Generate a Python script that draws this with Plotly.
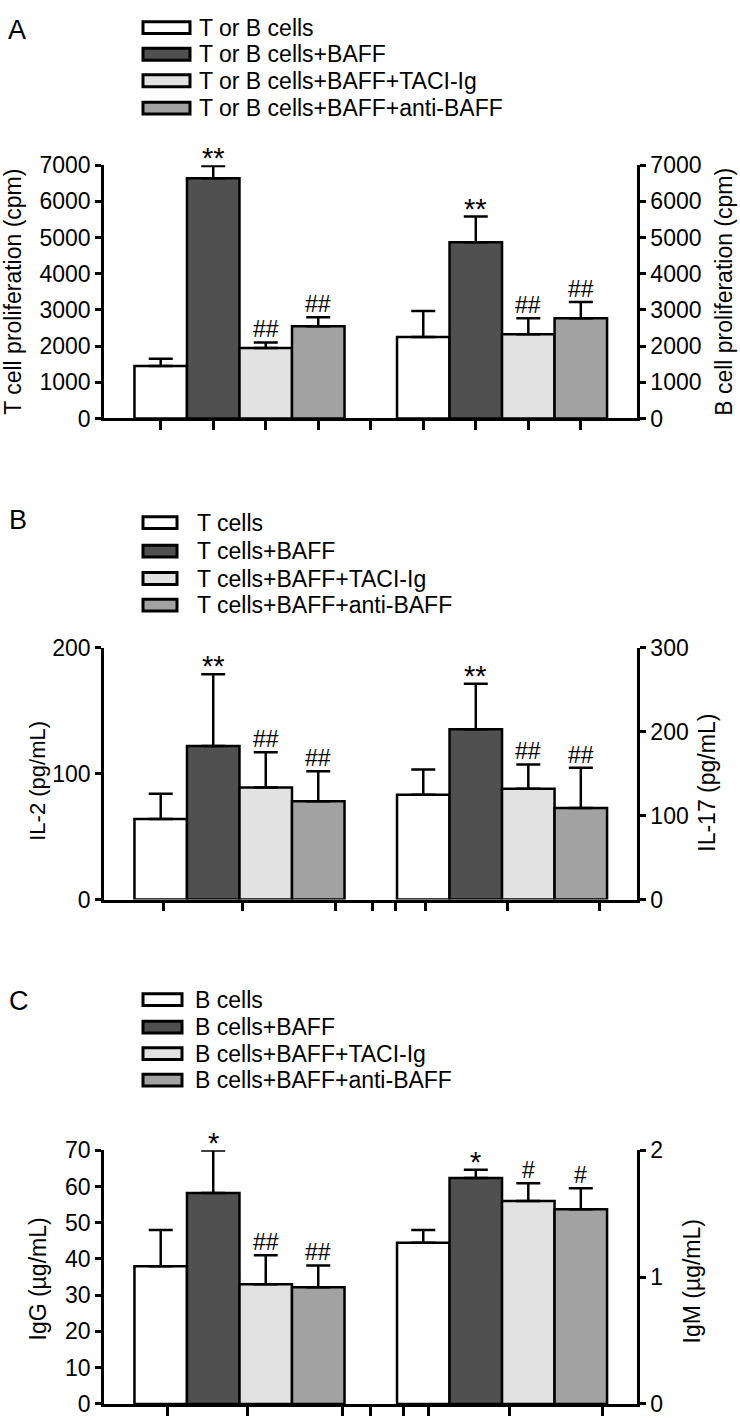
import plotly.graph_objects as go

W, H = 740, 1428

# ---------------- data ----------------
conditions_A = ["T or B cells", "T or B cells+BAFF", "T or B cells+BAFF+TACI-Ig", "T or B cells+BAFF+anti-BAFF"]
conditions_B = ["T cells", "T cells+BAFF", "T cells+BAFF+TACI-Ig", "T cells+BAFF+anti-BAFF"]
conditions_C = ["B cells", "B cells+BAFF", "B cells+BAFF+TACI-Ig", "B cells+BAFF+anti-BAFF"]

# Panel A: proliferation (cpm)
t_prolif = [1450, 6640, 1950, 2550]
t_prolif_err = [200, 340, 150, 250]
b_prolif = [2250, 4870, 2330, 2770]
b_prolif_err = [720, 710, 440, 450]
sig_t_prolif = ["", "**", "##", "##"]
sig_b_prolif = ["", "**", "##", "##"]

# Panel B: cytokines (pg/mL)
il2 = [64, 122, 89, 78]
il2_err = [20, 57, 28, 24]
il17 = [125, 203, 132, 109]
il17_err = [30, 54, 29, 48]
sig_il2 = ["", "**", "##", "##"]
sig_il17 = ["", "**", "##", "##"]

# Panel C: immunoglobulins (ug/mL)
igg = [38, 58.2, 33, 32.2]
igg_err = [10, 11.7, 8, 6]
igm = [1.27, 1.78, 1.60, 1.535]
igm_err = [0.10, 0.065, 0.14, 0.165]
sig_igg = ["", "*", "##", "##"]
sig_igm = ["", "*", "#", "#"]

# tick values
ticks_A = [0, 1000, 2000, 3000, 4000, 5000, 6000, 7000]
ticks_il2 = [0, 100, 200]
ticks_il17 = [0, 100, 200, 300]
ticks_igg = [0, 10, 20, 30, 40, 50, 60, 70]
ticks_igm = [0, 1, 2]

# ---------------- style ----------------
FONT = "Arial, 'Liberation Sans', Helvetica, sans-serif"
FILLS = ["#ffffff", "#505050", "#e2e2e2", "#a2a2a2"]
LW = 2.5
TICKFONT = 23
XRANGE = [-1.08, 9.07]
X_PX = (104, 637)
# irregular x-tick marks seen under panels B and C (in category units)
xticks_B = [0.06, 1.56, 3.33, 4.03, 4.47, 5.04, 6.6, 8.35]
xticks_C = [0.13, 1.65, 3.46, 3.99, 4.62, 5.1, 6.65, 8.42]

def px(x):
    return x / W

def py(y):
    return 1 - y / H

fig = go.Figure()

panels = [
    dict(n=1, conds=conditions_A, lname="T", rname="B",
         left=(t_prolif, t_prolif_err, sig_t_prolif), right=(b_prolif, b_prolif_err, sig_b_prolif),
         lrange=[0, 7000], rrange=[0, 7000], lticks=ticks_A, rticks=ticks_A,
         ypx=(413, 155), xticks=None,
         ltitle="T cell proliferation (cpm)", rtitle="B cell proliferation (cpm)",
         ltpos=(13, 284), rtpos=(724, 284), tsize=(23, 23),
         label="A", labpos=(17, 17),
         leg=dict(x0=143, x1=190, tx=197, rows=[15, 42, 69, 97])),
    dict(n=2, conds=conditions_B, lname="IL-2", rname="IL-17",
         left=(il2, il2_err, sig_il2), right=(il17, il17_err, sig_il17),
         lrange=[0, 200], rrange=[0, 300], lticks=ticks_il2, rticks=ticks_il17,
         ypx=(903, 646.5), xticks=xticks_B,
         ltitle="IL-2 (pg/mL)", rtitle="IL-17 (pg/mL)",
         ltpos=(38, 782), rtpos=(707, 784), tsize=(22, 23),
         label="B", labpos=(18, 516),
         leg=dict(x0=143, x1=177, tx=195, rows=[519, 548, 576, 603])),
    dict(n=3, conds=conditions_C, lname="IgG", rname="IgM",
         left=(igg, igg_err, sig_igg), right=(igm, igm_err, sig_igm),
         lrange=[0, 70], rrange=[0, 2], lticks=ticks_igg, rticks=ticks_igm,
         ypx=(1416.7, 1158.3), xticks=xticks_C,
         ltitle="IgG (µg/mL)", rtitle="IgM (µg/mL)",
         ltpos=(38, 1290), rtpos=(692, 1292), tsize=(23, 23),
         label="C", labpos=(19, 1006),
         leg=dict(x0=143, x1=182, tx=193, rows=[1005, 1033, 1060, 1087])),
]

annotations = []
shapes = []

for p in panels:
    n = p["n"]
    xa = "x" if n == 1 else f"x{n}"
    yl_n = 2 * n - 1
    yr_n = 2 * n
    yl = "y" if yl_n == 1 else f"y{yl_n}"
    yr = f"y{yr_n}"
    lcats = [f"{p['lname']}: {c}" for c in p["conds"]]
    rcats = [f"{p['rname']}: {c}" for c in p["conds"]]
    cats = lcats + [" "] + rcats

    for cats_g, (vals, errs, sig), yref in [(lcats, p["left"], yl), (rcats, p["right"], yr)]:
        fig.add_trace(go.Bar(
            x=cats_g, y=vals, xaxis=xa, yaxis=yref, width=1, cliponaxis=False,
            marker=dict(color=FILLS, line=dict(color="black", width=LW)),
            error_y=dict(type="data", array=errs, arrayminus=[0] * len(errs), symmetric=False,
                         color="black", thickness=LW, width=12),
            showlegend=False, hoverinfo="skip",
        ))
        for c, v, e, s in zip(cats_g, vals, errs, sig):
            if s:
                star = "*" in s
                annotations.append(dict(
                    x=c, y=v + e, xref=xa, yref=yref, text=s, showarrow=False,
                    xanchor="center", yanchor="middle",
                    yshift=8 if star else 13,
                    font=dict(size=29 if star else TICKFONT, color="black", family=FONT)))

    dom_y = [py(p["ypx"][0]), py(p["ypx"][1])]
    xaxis = dict(domain=[px(X_PX[0]), px(X_PX[1])], anchor=yl, type="category",
                 categoryorder="array", categoryarray=cats, range=XRANGE,
                 showline=True, linecolor="black", linewidth=LW,
                 ticks="outside", ticklen=9, tickwidth=LW, tickcolor="black",
                 showticklabels=False, showgrid=False, zeroline=False, fixedrange=True)
    if p["xticks"] is not None:
        xaxis.update(tickmode="array", tickvals=p["xticks"])
    ycommon = dict(showline=True, linecolor="black", linewidth=LW, ticks="outside",
                   ticklen=6, tickwidth=LW, tickcolor="black", showgrid=False,
                   zeroline=False, tickfont=dict(size=TICKFONT, color="black", family=FONT),
                   fixedrange=True)
    yleft = dict(domain=dom_y, anchor=xa, range=p["lrange"], tickmode="array",
                 tickvals=p["lticks"], ticktext=[str(t) for t in p["lticks"]], **ycommon)
    yright = dict(domain=dom_y, anchor=xa, overlaying=yl, side="right", range=p["rrange"],
                  tickmode="array", tickvals=p["rticks"], ticktext=[str(t) for t in p["rticks"]],
                  **ycommon)
    fig.update_layout(**{("xaxis" if n == 1 else f"xaxis{n}"): xaxis,
                         ("yaxis" if yl_n == 1 else f"yaxis{yl_n}"): yleft,
                         f"yaxis{yr_n}": yright})

    # axis titles
    for txt, pos, size in [(p["ltitle"], p["ltpos"], p["tsize"][0]), (p["rtitle"], p["rtpos"], p["tsize"][1])]:
        annotations.append(dict(x=px(pos[0]), y=py(pos[1]), xref="paper", yref="paper",
                                text=txt, textangle=-90, showarrow=False,
                                xanchor="center", yanchor="middle",
                                font=dict(size=size, color="black", family=FONT)))
    # panel label
    annotations.append(dict(x=px(p["labpos"][0]), y=py(p["labpos"][1]), xref="paper", yref="paper",
                            text=p["label"], showarrow=False, xanchor="center", yanchor="middle",
                            font=dict(size=27, color="black", family=FONT)))
    # legend
    lg = p["leg"]
    for cond, fill, yc in zip(p["conds"], FILLS, lg["rows"]):
        shapes.append(dict(type="rect", xref="paper", yref="paper",
                           x0=px(lg["x0"]), x1=px(lg["x1"]), y0=py(yc + 6), y1=py(yc - 6),
                           fillcolor=fill, line=dict(color="black", width=3)))
        annotations.append(dict(x=px(lg["tx"]), y=py(yc), xref="paper", yref="paper",
                                text=cond, showarrow=False, xanchor="left", yanchor="middle",
                                font=dict(size=TICKFONT, color="black", family=FONT)))

fig.update_layout(
    width=W, height=H, margin=dict(l=0, r=0, t=0, b=0),
    paper_bgcolor="white", plot_bgcolor="white",
    barmode="overlay", showlegend=False,
    annotations=annotations, shapes=shapes,
    font=dict(family=FONT, color="black"),
)

fig.write_html("out.html", config={"displayModeBar": False},
               post_script="document.body.style.margin='0';document.body.style.overflow='hidden';")
